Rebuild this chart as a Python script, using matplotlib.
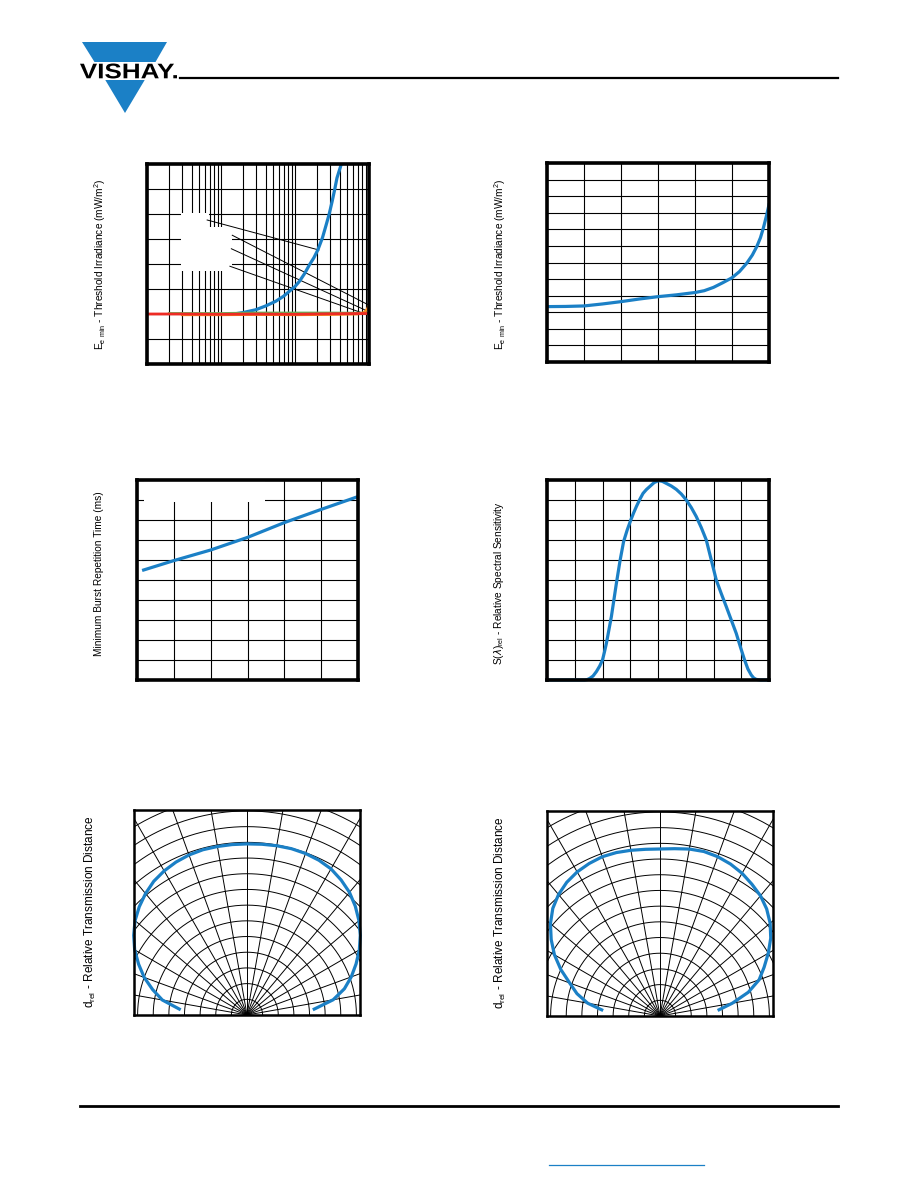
import matplotlib
matplotlib.use("Agg")
import matplotlib.pyplot as plt
import numpy as np
from matplotlib.font_manager import FontProperties
from matplotlib.patches import PathPatch, Polygon
from matplotlib.textpath import TextPath
from matplotlib.ticker import LogLocator, NullFormatter
from matplotlib.transforms import Affine2D

plt.rcParams["font.family"] = ["Liberation Sans", "DejaVu Sans"]

BLUE = "#1b80c6"
RED = "#ee2b24"
GREEN = "#5cb85c"
ORANGE = "#f58a1f"

# --- threshold irradiance vs frequency (log x) ---
blue1_x = [15, 20, 29.5, 40, 55, 70, 84, 100, 115, 135, 157, 180, 204, 235, 264, 290, 318, 345, 369, 395, 423]
blue1_y = [2.0, 2.06, 2.17, 2.32, 2.51, 2.71, 2.91, 3.1, 3.31, 3.62, 3.97, 4.25, 4.57, 5.05, 5.57, 6.0, 6.51, 7.0, 7.44, 7.72, 8.0]
green1_x = [2, 10, 30, 100, 300, 1000]
green1_y = [2.02, 2.02, 2.04, 2.04, 2.04, 2.03]
orange1_x = [3, 10, 30, 100, 300, 700, 850, 950, 1000]
orange1_y = [1.97, 1.97, 1.98, 1.97, 1.98, 2.0, 2.05, 2.2, 2.35]
red1_x = [1, 3, 10, 30, 100, 300, 1000]
red1_y = [2.0, 2.0, 1.99, 2.0, 1.99, 2.01, 2.02]
leader_x = [(6.5, 210), (14.2, 975), (13.8, 900), (13.2, 780)]
leader_y = [(5.76, 4.56), (5.15, 2.37), (4.61, 2.15), (3.91, 2.06)]

# --- threshold irradiance vs second quantity ---
curve2_x = [0, 0.5, 1, 1.5, 2, 2.5, 3, 3.5, 4, 4.25, 4.5, 4.75, 5, 5.2, 5.4, 5.55,
            5.67, 5.77, 5.85, 5.93, 6]
curve2_y = [3.34, 3.35, 3.38, 3.5, 3.64, 3.8, 3.94, 4.05, 4.19, 4.3, 4.5, 4.78, 5.08,
            5.45, 5.96, 6.45, 6.96, 7.5, 8.1, 8.8, 9.48]

# --- minimum burst repetition time ---
burst_x = [0.18, 1, 2, 3, 4, 5, 6]
burst_y = [5.5, 5.97, 6.5, 7.13, 7.87, 8.53, 9.17]

# --- relative spectral sensitivity ---
spec_x = [0, 1.36, 1.45, 1.54, 1.66, 1.78, 1.9, 2.0, 2.07, 2.14, 2.23, 2.32, 2.41, 2.5,
          2.63, 2.76, 2.89, 3.02, 3.12, 3.22, 3.34, 3.46, 3.58, 3.7, 3.86, 4.02, 4.16,
          4.3, 4.48, 4.66, 4.84, 5.02, 5.2, 5.38, 5.56, 5.74, 5.92, 6.1, 6.28, 6.46,
          6.64, 6.82, 6.97, 7.12, 7.24, 7.36, 7.45, 7.54, 7.7, 8]
spec_y = [0, 0, 0.02, 0.08, 0.2, 0.42, 0.7, 1.0, 1.4, 1.83, 2.5, 3.17, 4.0, 4.83,
          5.95, 6.92, 7.5, 8.0, 8.35, 8.67, 9.02, 9.33, 9.52, 9.67, 9.87, 9.97, 9.93,
          9.83, 9.7, 9.53, 9.3, 9.0, 8.62, 8.17, 7.62, 7.0, 6.0, 5.0, 4.32, 3.67,
          3.0, 2.33, 1.65, 1.0, 0.55, 0.25, 0.1, 0.03, 0, 0]

# --- directivity patterns (angle in degrees from axis, relative distance) ---
theta5 = [-85, -80, -75, -70, -65, -60, -55, -50, -45, -40, -35, -30, -25, -20, -15,
          -10, -5, 0, 5, 10, 15, 20, 25, 30, 35, 40, 45, 50, 55, 60, 65, 70, 75, 80, 85]
r5 = [0.435, 0.55, 0.625, 0.70, 0.765, 0.83, 0.885, 0.935, 0.975, 1.01, 1.04, 1.06,
      1.075, 1.085, 1.09, 1.09, 1.09, 1.09, 1.092, 1.095, 1.097, 1.095, 1.088, 1.075,
      1.05, 1.02, 0.98, 0.935, 0.885, 0.83, 0.77, 0.71, 0.645, 0.56, 0.432]
theta6 = [-84, -80, -75, -70, -65, -60, -55, -50, -45, -40, -35, -30, -25, -20, -15,
          -10, -5, 0, 5, 10, 15, 20, 25, 30, 35, 40, 45, 50, 55, 60, 65, 70, 75, 80, 84]
r6 = [0.375, 0.47, 0.55, 0.615, 0.70, 0.78, 0.85, 0.915, 0.97, 1.01, 1.04, 1.06,
      1.072, 1.08, 1.078, 1.072, 1.066, 1.064, 1.07, 1.08, 1.085, 1.08, 1.068, 1.05,
      1.025, 1.0, 0.965, 0.92, 0.865, 0.80, 0.735, 0.675, 0.585, 0.47, 0.38]
ring_radii = np.arange(0.1, 1.61, 0.1)
spoke_angles = np.arange(-90, 91, 10)

W, H = 918, 1188


def box(left, top, right, bottom):
    return [left / W, 1 - bottom / H, (right - left) / W, (bottom - top) / H]


def frame(ax, lw=2.6):
    for s in ax.spines.values():
        s.set_linewidth(lw)
        s.set_color("black")
        s.set_zorder(5)
    ax.tick_params(which="both", length=0, labelbottom=False, labelleft=False)
    ax.set_axisbelow(True)


def ylabel(x, y, text, size=7.3):
    fig.text(x / W, 1 - y / H, text, rotation=90, ha="center", va="center",
             fontsize=size, color="black")


fig = plt.figure(figsize=(9.18, 11.88), dpi=100)

# page decorations
page = fig.add_axes([0, 0, 1, 1])
page.set_xlim(0, W)
page.set_ylim(H, 0)
page.axis("off")
page.add_patch(Polygon([(82, 42), (167, 42), (155.5, 62), (94.5, 62)], color=BLUE, lw=0))
page.add_patch(Polygon([(105.3, 80), (144.7, 80), (125, 113)], color=BLUE, lw=0))
logo = TextPath((0, 0), "VISHAY.", size=10,
                prop=FontProperties(family="Liberation Sans", weight="bold"))
ext = logo.get_extents()
sx = 97 / ext.width
sy = 15 / ext.height
logo = logo.transformed(Affine2D().translate(-ext.x0, -ext.y0).scale(sx, -sy).translate(80, 78.5))
page.add_patch(PathPatch(logo, color="black", lw=0))
page.plot([180, 838], [78, 78], color="black", lw=1.6)
page.plot([80, 838], [1106, 1106], color="black", lw=2)
page.plot([549, 704], [1165, 1165], color=BLUE, lw=0.9)

# chart 1
ax1 = fig.add_axes(box(147, 164, 369, 364))
ax1.set_xscale("log")
ax1.set_xlim(1, 1000)
ax1.set_ylim(0, 8)
ax1.xaxis.set_major_locator(LogLocator(base=10))
ax1.xaxis.set_minor_locator(LogLocator(base=10, subs=range(2, 10)))
ax1.xaxis.set_minor_formatter(NullFormatter())
ax1.set_yticks(range(9))
ax1.grid(which="both", color="black", lw=0.8)
frame(ax1)
ax1.fill_between([2.87, 14.2], 3.71, 5.48, color="white", zorder=1, lw=0)
ax1.fill_between([2.87, 6.82], 3.71, 6.04, color="white", zorder=1, lw=0)
for lx, ly in zip(leader_x, leader_y):
    ax1.plot(lx, ly, color="black", lw=0.7, zorder=2)
ax1.plot(blue1_x, blue1_y, color=BLUE, lw=2.3, zorder=3)
ax1.plot(green1_x, green1_y, color=GREEN, lw=2, zorder=3)
ax1.plot(orange1_x, orange1_y, color=ORANGE, lw=2, zorder=3)
ax1.plot(red1_x, red1_y, color=RED, lw=2, zorder=4)
ylabel(100, 264, r"E$_{\mathregular{e\ min}}$ - Threshold Irradiance (mW/m$^{\mathregular{2}}$)")

# chart 2
ax2 = fig.add_axes(box(547, 163, 769, 362))
ax2.set_xlim(0, 6)
ax2.set_ylim(0, 12)
ax2.set_xticks(range(7))
ax2.set_yticks(range(13))
ax2.grid(color="black", lw=0.8)
frame(ax2)
ax2.plot(curve2_x, curve2_y, color=BLUE, lw=2.3, zorder=3)
ylabel(500, 264, r"E$_{\mathregular{e\ min}}$ - Threshold Irradiance (mW/m$^{\mathregular{2}}$)")

# chart 3
ax3 = fig.add_axes(box(137, 480, 358, 680))
ax3.set_xlim(0, 6)
ax3.set_ylim(0, 10)
ax3.set_xticks(range(7))
ax3.set_yticks(range(11))
ax3.grid(color="black", lw=0.8)
frame(ax3)
ax3.fill_between([0.18, 3.47], 8.92, 10, color="white", zorder=1, lw=0)
ax3.plot(burst_x, burst_y, color=BLUE, lw=2.3, zorder=3)
ylabel(99, 574, "Minimum Burst Repetition Time (ms)")

# chart 4
ax4 = fig.add_axes(box(547, 480, 769, 680))
ax4.set_xlim(0, 8)
ax4.set_ylim(0, 10)
ax4.set_xticks(range(9))
ax4.set_yticks(range(11))
ax4.grid(color="black", lw=0.8)
frame(ax4)
ax4.plot(spec_x, spec_y, color=BLUE, lw=2.3, zorder=3, clip_on=False)
ylabel(499, 583, r"S($\lambda$)$_{\mathregular{rel}}$ - Relative Spectral Sensitivity")


def directivity(rect, theta, r, label_x, label_y):
    ax = fig.add_axes(rect)
    ax.set_xlim(-0.723, 0.723)
    ax.set_ylim(0, 1.306)
    frame(ax, lw=1.8)
    arc = np.radians(np.linspace(-90, 90, 181))
    for rr in ring_radii:
        ax.plot(rr * np.sin(arc), rr * np.cos(arc), color="black", lw=0.7, zorder=1)
    for a in np.radians(spoke_angles):
        ax.plot([0, 2 * np.sin(a)], [0, 2 * np.cos(a)], color="black", lw=0.7, zorder=1)
    t = np.radians(theta)
    r = np.asarray(r)
    ax.plot(r * np.sin(t), r * np.cos(t), color=BLUE, lw=2.3, zorder=3, clip_on=False)
    ylabel(label_x, label_y, r"d$_{\mathregular{rel}}$ - Relative Transmission Distance", size=8.5)
    return ax


directivity(box(134, 810, 360, 1015), theta5, r5, 90, 912)
directivity(box(547, 811, 773, 1016), theta6, r6, 500, 913)

fig.savefig("out.png", dpi=100)
